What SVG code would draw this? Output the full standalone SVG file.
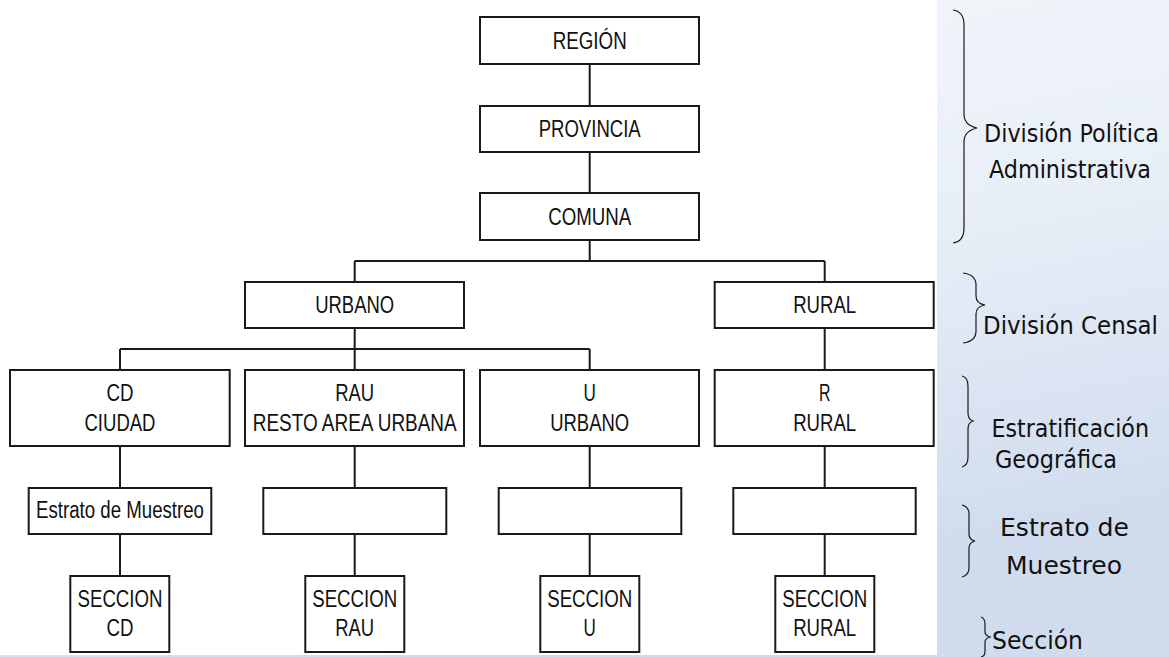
<svg xmlns="http://www.w3.org/2000/svg" width="1169" height="657" viewBox="0 0 1169 657">
<defs>
<linearGradient id="bg" x1="0" y1="0" x2="0.35" y2="1">
<stop offset="0" stop-color="#f7f9fc"/>
<stop offset="0.5" stop-color="#eaf0f8"/>
<stop offset="1" stop-color="#d0dcee"/>
</linearGradient>
<style>
.box{fill:#ffffff;stroke:#1a1a1a;stroke-width:2}
.ln{fill:none;stroke:#1a1a1a;stroke-width:2}
.br{fill:none;stroke:#1a1a1a;stroke-width:1.2}
.t{font-family:"Liberation Sans Narrow","Liberation Sans",Arial,sans-serif;font-size:23.5px;fill:#111;text-anchor:middle}
.lb{font-family:"DejaVu Sans Condensed","DejaVu Sans",Tahoma,sans-serif;font-size:24.5px;fill:#111}
</style>
</defs>
<rect x="0" y="0" width="1169" height="657" fill="url(#bg)"/>
<rect x="0" y="0" width="937" height="655" fill="#ffffff"/>

<g id="connectors">
<path class="ln" d="M589.7 64V106M589.7 152V193M589.7 240V261M354.7 261H824.7M354.7 261V282M824.7 261V282"/>
<path class="ln" d="M354.7 328V349M120 349H589.7M120 349V370M354.7 349V370M589.7 349V370M824.7 328V370"/>
<path class="ln" d="M120 446V488M354.7 446V488M589.7 446V488M824.7 446V488"/>
<path class="ln" d="M120 534V576M354.7 534V576M589.7 534V576M824.7 534V576"/>
</g>

<g id="region"><rect class="box" x="480" y="17" width="219" height="47"/><text class="t" x="589.7" y="49" textLength="74" lengthAdjust="spacingAndGlyphs">REGIÓN</text></g>
<g id="provincia"><rect class="box" x="480" y="106" width="219" height="46"/><text class="t" x="589.7" y="136.7" textLength="102" lengthAdjust="spacingAndGlyphs">PROVINCIA</text></g>
<g id="comuna"><rect class="box" x="480" y="193" width="219" height="47"/><text class="t" x="589.7" y="225" textLength="83" lengthAdjust="spacingAndGlyphs">COMUNA</text></g>
<g id="urbano"><rect class="box" x="245" y="282" width="219" height="46"/><text class="t" x="354.7" y="312.7" textLength="79" lengthAdjust="spacingAndGlyphs">URBANO</text></g>
<g id="rural"><rect class="box" x="714.7" y="282" width="219" height="46"/><text class="t" x="824.7" y="312.7" textLength="63" lengthAdjust="spacingAndGlyphs">RURAL</text></g>

<g id="cd"><rect class="box" x="10" y="370" width="219.7" height="76"/><text class="t" x="120" y="400.7" textLength="27" lengthAdjust="spacingAndGlyphs">CD</text><text class="t" x="120" y="430.7" textLength="71" lengthAdjust="spacingAndGlyphs">CIUDAD</text></g>
<g id="rau"><rect class="box" x="245" y="370" width="219" height="76"/><text class="t" x="354.7" y="400.7" textLength="39" lengthAdjust="spacingAndGlyphs">RAU</text><text class="t" x="354.7" y="430.7" textLength="204" lengthAdjust="spacingAndGlyphs">RESTO AREA URBANA</text></g>
<g id="u"><rect class="box" x="480" y="370" width="219" height="76"/><text class="t" x="589.7" y="400.7" textLength="12.3" lengthAdjust="spacingAndGlyphs">U</text><text class="t" x="589.7" y="430.7" textLength="79" lengthAdjust="spacingAndGlyphs">URBANO</text></g>
<g id="r"><rect class="box" x="714.7" y="370" width="219" height="76"/><text class="t" x="824.7" y="400.7" textLength="11.5" lengthAdjust="spacingAndGlyphs">R</text><text class="t" x="824.7" y="430.7" textLength="63" lengthAdjust="spacingAndGlyphs">RURAL</text></g>

<g id="estrato-cd"><rect class="box" x="28.7" y="488" width="182.6" height="46"/><text class="t" x="120" y="518.3" textLength="168" lengthAdjust="spacingAndGlyphs">Estrato de Muestreo</text></g>
<g id="estrato-rau"><rect class="box" x="263.3" y="488" width="183" height="46"/></g>
<g id="estrato-u"><rect class="box" x="498.7" y="488" width="182.6" height="46"/></g>
<g id="estrato-r"><rect class="box" x="733.3" y="488" width="182.4" height="46"/></g>

<g id="seccion-cd"><rect class="box" x="70.3" y="576" width="99" height="76"/><text class="t" x="120" y="606.7" textLength="85" lengthAdjust="spacingAndGlyphs">SECCION</text><text class="t" x="120" y="636" textLength="27" lengthAdjust="spacingAndGlyphs">CD</text></g>
<g id="seccion-rau"><rect class="box" x="305.3" y="576" width="99" height="76"/><text class="t" x="354.7" y="606.7" textLength="85" lengthAdjust="spacingAndGlyphs">SECCION</text><text class="t" x="354.7" y="636" textLength="39" lengthAdjust="spacingAndGlyphs">RAU</text></g>
<g id="seccion-u"><rect class="box" x="540.3" y="576" width="99" height="76"/><text class="t" x="589.7" y="606.7" textLength="85" lengthAdjust="spacingAndGlyphs">SECCION</text><text class="t" x="589.7" y="636" textLength="12.3" lengthAdjust="spacingAndGlyphs">U</text></g>
<g id="seccion-rural"><rect class="box" x="775.3" y="576" width="99" height="76"/><text class="t" x="824.7" y="606.7" textLength="85" lengthAdjust="spacingAndGlyphs">SECCION</text><text class="t" x="824.7" y="636" textLength="63" lengthAdjust="spacingAndGlyphs">RURAL</text></g>

<g id="brace-politica">
<path class="br" d="M953 10C960 11 964 15 964 25V114C964 122 968 126 977 128C968 130 964 134 964 142V228C964 238 960 242 953 243"/>
<text class="lb" x="984" y="142" textLength="175" lengthAdjust="spacingAndGlyphs">División Política</text>
<text class="lb" x="989" y="177.5" textLength="162" lengthAdjust="spacingAndGlyphs">Administrativa</text>
</g>
<g id="brace-censal">
<path class="br" d="M963 273C971 274 976 278 976 285V296C976 301 979 304 985 305C979 306 976 309 976 314V331C976 339 971 342 963 343"/>
<text class="lb" x="983" y="334" textLength="175" lengthAdjust="spacingAndGlyphs">División Censal</text>
</g>
<g id="brace-estratificacion">
<path class="br" d="M962 376C966 377 968 380 968 386V413C968 417 970 420 973 421C970 422 968 425 968 429V457C968 463 966 466 962 467"/>
<text class="lb" x="991.5" y="437.3" textLength="157.5" lengthAdjust="spacingAndGlyphs">Estratificación</text>
<text class="lb" x="995" y="468.3" textLength="122" lengthAdjust="spacingAndGlyphs">Geográfica</text>
</g>
<g id="brace-estrato">
<path class="br" d="M962 505C966 506 969 509 969 514V534C969 538 971 540 975 541C971 542 969 544 969 548V568C969 574 966 576 962 577"/>
<text class="lb" x="1000" y="536" textLength="129" lengthAdjust="spacingAndGlyphs">Estrato de</text>
<text class="lb" x="1006" y="574" textLength="116" lengthAdjust="spacingAndGlyphs">Muestreo</text>
</g>
<g id="brace-seccion">
<path class="br" d="M981 617C984 618 985 620 985 624V632C985 635 987 636 990 637C987 638 985 639 985 642V651C985 655 984 656 981 657"/>
<text class="lb" x="992" y="649" textLength="91" lengthAdjust="spacingAndGlyphs">Sección</text>
</g>
</svg>
